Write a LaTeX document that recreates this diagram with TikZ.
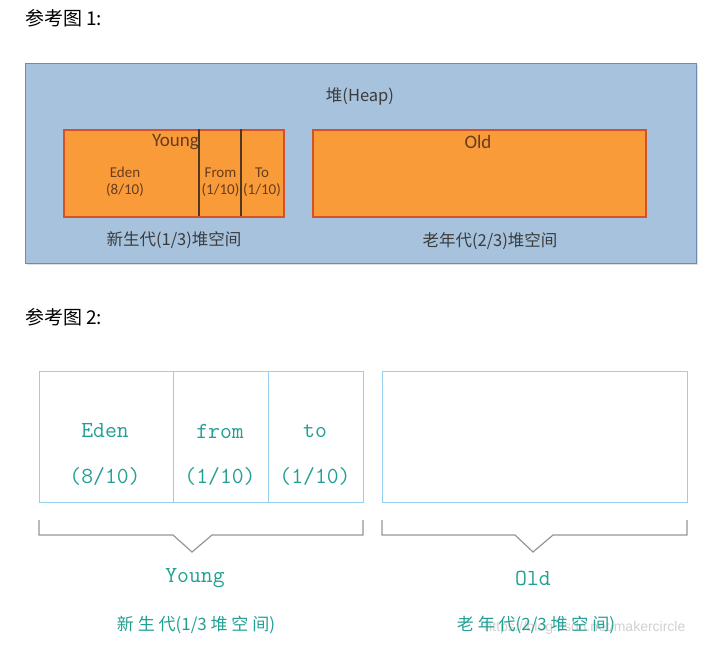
\documentclass[tikz,border=0pt]{standalone}
\usepackage{fontspec}
\setmainfont{Carlito}
\newfontfamily\cjk{Noto Sans CJK SC}
\newfontfamily\wm{Liberation Sans}
\newfontfamily\mono{Latin Modern Mono}
\usetikzlibrary{shadows}
\definecolor{heapfill}{RGB}{166,194,221}
\definecolor{heapline}{RGB}{110,140,175}
\definecolor{orangefill}{RGB}{248,155,56}
\definecolor{orangeline}{RGB}{214,80,40}
\definecolor{divline}{RGB}{80,55,35}
\definecolor{browntext}{RGB}{105,60,30}
\definecolor{graytext}{RGB}{60,60,60}
\definecolor{boxblue}{RGB}{150,208,240}
\definecolor{tealtext}{RGB}{34,160,148}
\definecolor{bracketgray}{RGB}{150,150,150}
\tikzset{
  heapbox/.style={draw=heapline, fill=heapfill, line width=1.4pt, inner sep=0pt, anchor=north west,
    drop shadow={opacity=0.25, shadow xshift=1.5pt, shadow yshift=-1.5pt}},
  genbox/.style={draw=orangeline, fill=orangefill, line width=2pt, inner sep=0pt, anchor=north west},
  cell/.style={inner sep=0pt, anchor=north west},
  bluebox/.style={draw=boxblue, line width=1pt, inner sep=0pt, anchor=north west},
  divider/.style={draw=divline, line width=1.4pt},
  bluediv/.style={draw=boxblue, line width=1pt},
  bracket/.style={draw=bracketgray, line width=1.2pt},
  title/.style={font=\cjk\fontsize{19}{22}\selectfont, text=black, anchor=west, inner sep=0pt},
  darklabel/.style={font=\cjk\fontsize{16.5}{19}\selectfont, text=graytext, inner sep=0pt},
  brownlabel/.style={text=browntext, inner sep=0pt, align=center},
  smallbrown/.style={brownlabel, font=\fontsize{15}{17}\selectfont},
  tealmono/.style={font=\mono\fontsize{23}{26}\selectfont, text=tealtext, inner sep=0pt},
  tealcjk/.style={font=\cjk\fontsize{17}{20}\selectfont, text=tealtext, inner sep=0pt},
}
\begin{document}
\begin{tikzpicture}[x=1pt,y=-1pt]
\useasboundingbox (0,0) rectangle (717,654);
\fill[white] (0,0) rectangle (717,654);

% ---------- Figure 1 ----------
\node[title] (t1) at (25,18) {参考图 1:};
\node[heapbox, minimum width=671pt, minimum height=200pt] (heap) at (25,63) {};
\node[darklabel] (heaplabel) at (360,96) {堆(Heap)};

\node[genbox, minimum width=220pt, minimum height=87pt] (young) at (63,129) {};
\node[cell, minimum width=136pt, minimum height=87pt] (eden) at (63,129) {};
\node[cell, minimum width=42pt, minimum height=87pt] (from) at (199,129) {};
\node[cell, minimum width=42pt, minimum height=87pt] (to) at (241,129) {};
\draw[divider] (from.north west) -- (from.south west);
\draw[divider] (to.north west) -- (to.south west);
\node[brownlabel, font=\fontsize{19}{21}\selectfont, anchor=east] (younglabel) at (199,142) {Young};
\node[smallbrown] (edenlabel) at (125,182) {Eden\\(8/10)};
\node[smallbrown] (fromlabel) at (220.5,182) {From\\(1/10)};
\node[smallbrown] (tolabel) at (262,182) {To\\(1/10)};

\node[genbox, minimum width=333pt, minimum height=87pt] (old) at (312,129) {};
\node[brownlabel, font=\fontsize{19}{21}\selectfont] (oldlabel) at (478,142) {Old};

\node[darklabel] (younggen) at (174,240) {新生代(1/3)堆空间};
\node[darklabel] (oldgen) at (490,241) {老年代(2/3)堆空间};

% ---------- Figure 2 ----------
\node[title] (t2) at (25,317) {参考图 2:};

\node[bluebox, minimum width=324pt, minimum height=131pt] (young2) at (39,371) {};
\node[cell, minimum width=134pt, minimum height=131pt] (eden2) at (39,371) {};
\node[cell, minimum width=95pt, minimum height=131pt] (from2) at (173,371) {};
\node[cell, minimum width=95pt, minimum height=131pt] (to2) at (268,371) {};
\draw[bluediv] (from2.north west) -- (from2.south west);
\draw[bluediv] (to2.north west) -- (to2.south west);
\node[tealmono] (e2a) at (105,431) {Eden};
\node[tealmono] (e2b) at (105,476) {(8/10)};
\node[tealmono] (f2a) at (220,431) {from};
\node[tealmono] (f2b) at (220,476) {(1/10)};
\node[tealmono] (t2a) at (315,431) {to};
\node[tealmono] (t2b) at (315,476) {(1/10)};

\node[bluebox, minimum width=305pt, minimum height=131pt] (old2) at (382,371) {};

% brackets
\coordinate (yb1) at (39,520);
\coordinate (yb2) at (39,535);
\coordinate (yb3) at (173,535);
\coordinate (yb4) at (192,552);
\coordinate (yb5) at (212,535);
\coordinate (yb6) at (363,535);
\coordinate (yb7) at (363,520);
\draw[bracket] (yb1) -- (yb2) -- (yb3) -- (yb4) -- (yb5) -- (yb6) -- (yb7);

\coordinate (ob1) at (382,520);
\coordinate (ob2) at (382,535);
\coordinate (ob3) at (515,535);
\coordinate (ob4) at (533,552);
\coordinate (ob5) at (553,535);
\coordinate (ob6) at (687,535);
\coordinate (ob7) at (687,520);
\draw[bracket] (ob1) -- (ob2) -- (ob3) -- (ob4) -- (ob5) -- (ob6) -- (ob7);

\node[tealmono] (young2label) at (195,578) {Young};
\node[tealmono] (old2label) at (533,578) {Old};
\node[tealcjk] (young2gen) at (196,625) {新 生 代(1/3 堆 空 间)};
\node[text=black!18, font=\wm\fontsize{14}{16}\selectfont, inner sep=0pt] (watermark) at (585,628) {https://blog.csdn.net/makercircle};
\node[tealcjk] (old2gen) at (536,625) {老 年 代(2/3 堆 空 间)};
\end{tikzpicture}
\end{document}
